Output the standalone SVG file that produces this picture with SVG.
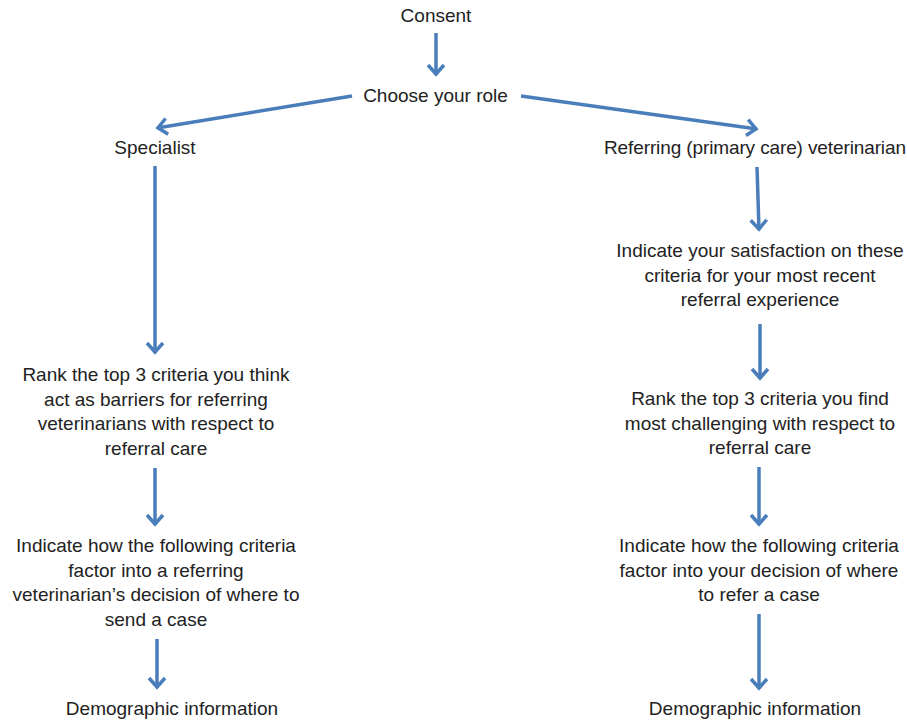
<svg xmlns="http://www.w3.org/2000/svg" width="907" height="721" viewBox="0 0 907 721">
<style>
text{font-family:"Liberation Sans",Arial,sans-serif;font-size:19px;fill:#222;text-anchor:middle}
.c line{stroke:#4a7ebb;stroke-width:3.5;fill:none;marker-end:url(#ah)}
</style>
<defs>
<marker id="ah" markerUnits="userSpaceOnUse" viewBox="-14 -10 16 20" refX="0" refY="0" markerWidth="16" markerHeight="20" orient="auto">
<path d="M-10,-8 L-1,0 L-10,8" fill="none" stroke="#4a7ebb" stroke-width="3.5" stroke-linejoin="miter"/>
</marker>
</defs>
<rect width="907" height="721" fill="#fff"/>
<g id="n-consent"><text x="436" y="22">Consent</text></g>
<g id="n-role"><text x="435.5" y="102">Choose your role</text></g>
<g id="n-specialist"><text x="155" y="154">Specialist</text></g>
<g id="n-referring"><text x="755" y="154" textLength="302">Referring (primary care) veterinarian</text></g>
<g id="n-s-rank"><text x="156" y="381">Rank the top 3 criteria you think</text><text x="156" y="405.5">act as barriers for referring</text><text x="156" y="430">veterinarians with respect to</text><text x="156" y="454.5">referral care</text></g>
<g id="n-s-indicate"><text x="156" y="552">Indicate how the following criteria</text><text x="156" y="576.5">factor into a referring</text><text x="156" y="601">veterinarian’s decision of where to</text><text x="156" y="625.5">send a case</text></g>
<g id="n-s-demo"><text x="172" y="715">Demographic information</text></g>
<g id="n-r-satisfaction"><text x="760" y="257">Indicate your satisfaction on these</text><text x="760" y="281.5">criteria for your most recent</text><text x="760" y="306">referral experience</text></g>
<g id="n-r-rank"><text x="760" y="405">Rank the top 3 criteria you find</text><text x="760" y="429.5">most challenging with respect to</text><text x="760" y="454">referral care</text></g>
<g id="n-r-indicate"><text x="759" y="552">Indicate how the following criteria</text><text x="759" y="576.5">factor into your decision of where</text><text x="759" y="601">to refer a case</text></g>
<g id="n-r-demo"><text x="755" y="715">Demographic information</text></g>
<g id="connectors" class="c">
<line x1="436" y1="33" x2="436" y2="75"/>
<line x1="352" y1="96" x2="157" y2="128"/>
<line x1="521" y1="96" x2="757" y2="129"/>
<line x1="155" y1="166" x2="155" y2="353"/>
<line x1="757" y1="167" x2="759" y2="230"/>
<line x1="155" y1="468" x2="155" y2="525"/>
<line x1="760" y1="324" x2="760" y2="379"/>
<line x1="157" y1="639" x2="157" y2="688"/>
<line x1="759" y1="467" x2="759" y2="525"/>
<line x1="759" y1="614" x2="759" y2="689"/>
</g>
</svg>
